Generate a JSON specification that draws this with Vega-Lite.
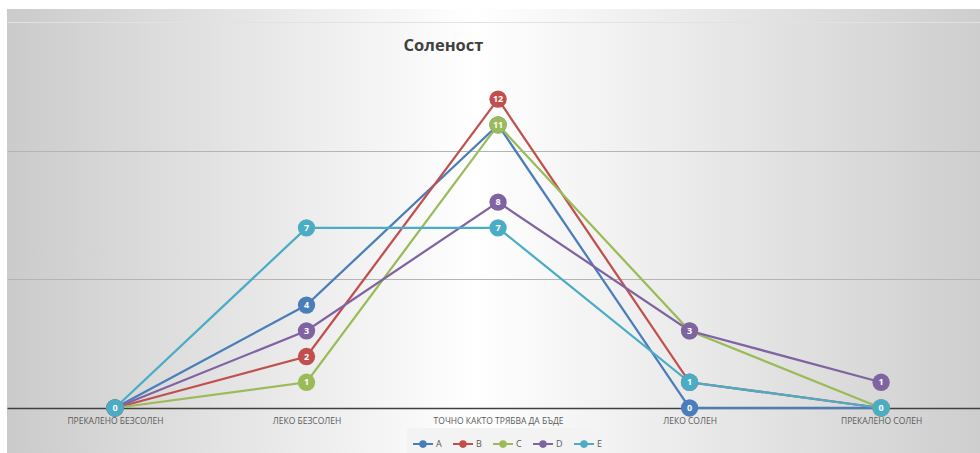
{
  "$schema": "https://vega.github.io/schema/vega-lite/v6.json",
  "autosize": "none",
  "width": 973,
  "height": 444,
  "padding": {"left": 7, "top": 9, "right": 0, "bottom": 0},
  "background": "#ffffff",
  "view": {
    "stroke": null,
    "fill": {
      "gradient": "linear",
      "x1": 0, "y1": 0, "x2": 1, "y2": 0,
      "stops": [
        {"offset": 0, "color": "#cbcbcb"},
        {"offset": 0.48, "color": "#ffffff"},
        {"offset": 1, "color": "#cecece"}
      ]
    }
  },
  "title": {
    "text": "Соленост",
    "font": "Open Sans",
    "fontSize": 16.5,
    "fontWeight": "bold",
    "color": "#404040",
    "anchor": "middle",
    "baseline": "alphabetic",
    "offset": -58,
    "dx": -50
  },
  "data": {
    "values": [
      {"category": "Прекалено безсолен", "series": "A", "value": 0},
      {"category": "Леко безсолен", "series": "A", "value": 4},
      {"category": "Точно както трябва да бъде", "series": "A", "value": 11},
      {"category": "Леко солен", "series": "A", "value": 0},
      {"category": "Прекалено солен", "series": "A", "value": 0},
      {"category": "Прекалено безсолен", "series": "B", "value": 0},
      {"category": "Леко безсолен", "series": "B", "value": 2},
      {"category": "Точно както трябва да бъде", "series": "B", "value": 12},
      {"category": "Леко солен", "series": "B", "value": 1},
      {"category": "Прекалено солен", "series": "B", "value": 0},
      {"category": "Прекалено безсолен", "series": "C", "value": 0},
      {"category": "Леко безсолен", "series": "C", "value": 1},
      {"category": "Точно както трябва да бъде", "series": "C", "value": 11},
      {"category": "Леко солен", "series": "C", "value": 3},
      {"category": "Прекалено солен", "series": "C", "value": 0},
      {"category": "Прекалено безсолен", "series": "D", "value": 0},
      {"category": "Леко безсолен", "series": "D", "value": 3},
      {"category": "Точно както трябва да бъде", "series": "D", "value": 8},
      {"category": "Леко солен", "series": "D", "value": 3},
      {"category": "Прекалено солен", "series": "D", "value": 1},
      {"category": "Прекалено безсолен", "series": "E", "value": 0},
      {"category": "Леко безсолен", "series": "E", "value": 7},
      {"category": "Точно както трябва да бъде", "series": "E", "value": 7},
      {"category": "Леко солен", "series": "E", "value": 1},
      {"category": "Прекалено солен", "series": "E", "value": 0}
    ]
  },
  "encoding": {
    "x": {
      "field": "category",
      "type": "nominal",
      "sort": ["Прекалено безсолен", "Леко безсолен", "Точно както трябва да бъде", "Леко солен", "Прекалено солен"],
      "scale": {"type": "point", "padding": 0.54, "align": 0.522},
      "axis": {
        "title": null,
        "orient": "bottom",
        "offset": -45,
        "domainColor": "#404040",
        "domainWidth": 1.5,
        "ticks": false,
        "grid": false,
        "labelAngle": 0,
        "labelFont": "Open Sans",
        "labelFontSize": 8.5,
        "labelColor": "#595959",
        "labelPadding": 8,
        "labelExpr": "upper(datum.label)"
      }
    },
    "y": {
      "field": "value",
      "type": "quantitative",
      "scale": {"domain": [-1.749, 15.505], "nice": false, "zero": false},
      "axis": {
        "title": null,
        "labels": false,
        "ticks": false,
        "domain": false,
        "grid": true,
        "values": [5, 10, 15],
        "gridColor": {"condition": {"test": "datum.value === 15", "value": "#e2e2e2"}, "value": "#b4b4b4"},
        "gridWidth": 1
      }
    },
    "color": {
      "field": "series",
      "type": "nominal",
      "scale": {
        "domain": ["A", "B", "C", "D", "E"],
        "range": ["#4a7ebb", "#c0504d", "#9bbb59", "#8064a2", "#4bacc6"]
      },
      "legend": {
        "orient": "none",
        "legendX": 400,
        "legendY": 419,
        "direction": "horizontal",
        "title": null,
        "symbolType": "M-1,0H1M-0.28,0A0.28,0.28,0,1,1,0.28,0A0.28,0.28,0,1,1,-0.28,0Z",
        "symbolSize": 400,
        "symbolStrokeWidth": 2,
        "labelFont": "Open Sans",
        "labelFontSize": 9,
        "labelColor": "#595959",
        "labelOffset": 2,
        "columnPadding": 7,
        "fillColor": "#f3f3f3",
        "padding": 5,
        "encode": {
          "symbols": {
            "update": {
              "fill": {"scale": "color", "field": "value"},
              "stroke": {"scale": "color", "field": "value"}
            }
          }
        }
      }
    }
  },
  "layer": [
    {
      "mark": {"type": "line", "strokeWidth": 2.25},
      "encoding": {"order": {"value": null}}
    },
    {
      "mark": {"type": "point", "filled": true, "size": 300, "opacity": 1}
    },
    {
      "transform": [
        {
          "window": [{"op": "row_number", "as": "stack_rank"}],
          "groupby": ["category", "value"],
          "sort": [{"field": "series", "order": "descending"}]
        },
        {"filter": "datum.stack_rank === 1"}
      ],
      "mark": {
        "type": "text",
        "font": "Open Sans",
        "fontSize": 9,
        "fontWeight": "bold",
        "color": "#ffffff",
        "align": "center",
        "baseline": "middle"
      },
      "encoding": {
        "text": {"field": "value", "type": "quantitative"},
        "color": {"value": "#ffffff"}
      }
    }
  ]
}
